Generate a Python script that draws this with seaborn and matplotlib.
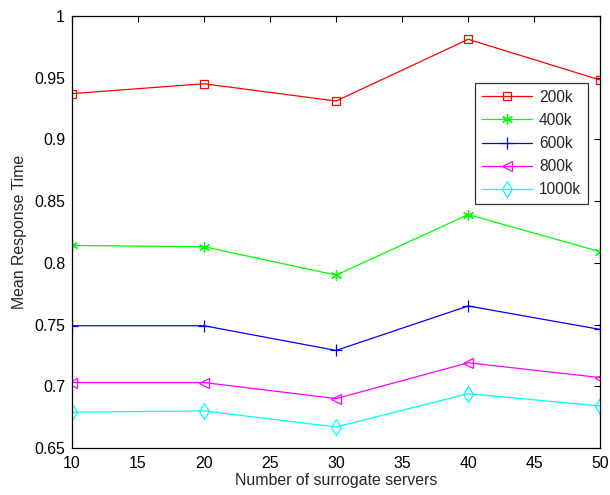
import matplotlib
matplotlib.use("Agg")
import matplotlib.pyplot as plt
import seaborn as sns
import pandas as pd
from matplotlib.ticker import FuncFormatter

servers = [10, 20, 30, 40, 50]
labels = ["200k", "400k", "600k", "800k", "1000k"]
v200k = [0.937, 0.945, 0.931, 0.981, 0.948]
v400k = [0.814, 0.813, 0.790, 0.839, 0.809]
v600k = [0.749, 0.749, 0.729, 0.765, 0.746]
v800k = [0.703, 0.703, 0.690, 0.719, 0.707]
v1000k = [0.679, 0.680, 0.667, 0.694, 0.684]
series = [v200k, v400k, v600k, v800k, v1000k]
colors = ["#ff0000", "#00ff00", "#0000ff", "#ff00ff", "#00ffff"]
markers = ["s", (6, 2, 0), "+", "<", "d"]
msizes = [6, 8, 9, 7, 8]

sns.set_style("white")
plt.rcParams["font.family"] = ["Liberation Sans", "DejaVu Sans"]

fig = plt.figure(figsize=(6.1, 4.95), dpi=100)
ax = fig.add_axes([0.118, 0.095, 0.866, 0.873])

for lab, vals, col, mk, ms in zip(labels, series, colors, markers, msizes):
    df = pd.DataFrame({"x": servers, "y": vals})
    sns.lineplot(data=df, x="x", y="y", ax=ax, color=col, marker=mk,
                 label=lab, linewidth=0.9, markersize=ms)

for line in ax.lines:
    c = line.get_color()
    line.set_markerfacecolor("none")
    line.set_markeredgecolor(c)
    line.set_markeredgewidth(0.9)

ax.set_xlim(10, 50)
ax.set_ylim(0.65, 1.0)
ax.set_xticks([10, 15, 20, 25, 30, 35, 40, 45, 50])
ax.set_yticks([0.65, 0.7, 0.75, 0.8, 0.85, 0.9, 0.95, 1.0])
ax.yaxis.set_major_formatter(FuncFormatter(lambda v, p: f"{v:g}"))
ax.tick_params(direction="in", length=4, width=0.8, top=True, right=True,
               labelsize=11.4, colors="black", pad=5)
ax.tick_params(axis="x", pad=6)
for s in ax.spines.values():
    s.set_visible(True)
    s.set_color("black")
    s.set_linewidth(0.9)
ax.set_xlabel("Number of surrogate servers", fontsize=11.4, labelpad=1)
ax.set_ylabel("Mean Response Time", fontsize=11.4, labelpad=5)

handles = ax.lines
leg = ax.legend(handles, labels, loc="upper right", bbox_to_anchor=(0.977, 0.845),
                frameon=True, fancybox=False, shadow=False, fontsize=11.2,
                handlelength=3.2, handletextpad=0.45, borderpad=0.45,
                labelspacing=0.52, borderaxespad=0)
leg.get_frame().set_edgecolor("black")
leg.get_frame().set_linewidth(0.9)

fig.savefig("out.png", dpi=100)
